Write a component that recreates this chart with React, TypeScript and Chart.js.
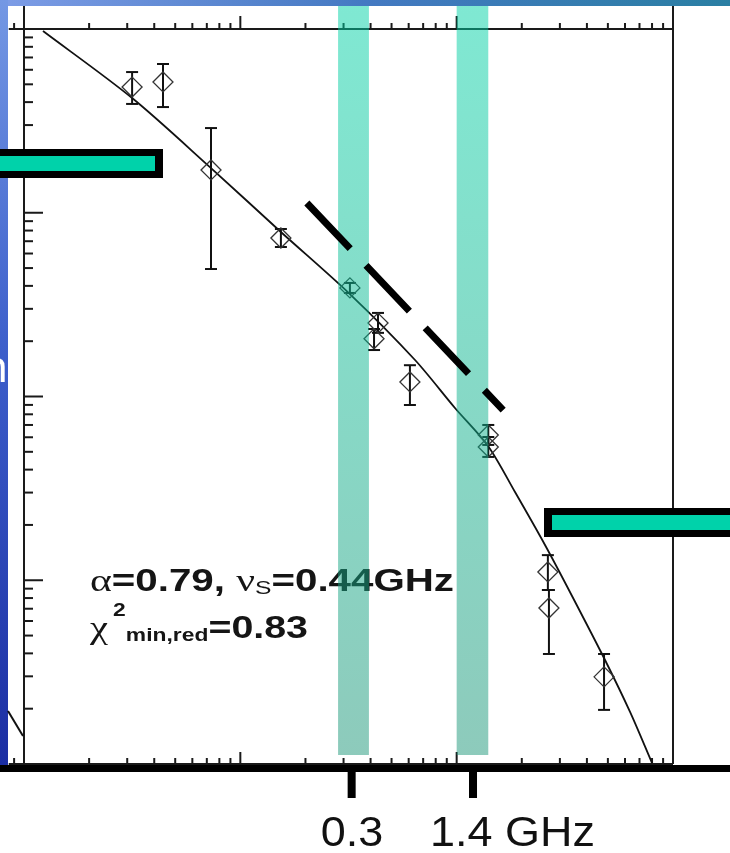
import React, { useEffect, useRef } from "react";
import { Chart, registerables } from "chart.js";

Chart.register(...registerables);

// Axis ranges: frequency in GHz, flux density in Jy (log–log)
const xRange = [0.01, 10];
const yRange = [0.01, 100];

// Observed spectrum (diamonds with error bars)
const obsFreq = [0.0316, 0.0439, 0.0732, 0.154, 0.321, 0.433, 0.415, 0.608, 1.4, 1.4, 2.64, 2.67, 4.8];
const obsFlux = [48.3, 51.5, 17.1, 7.29, 3.9, 2.51, 2.06, 1.2, 0.617, 0.531, 0.111, 0.0706, 0.0298];
const obsErrLow = [39.1, 37.6, 4.94, 6.51, 3.66, 2.22, 1.79, 0.899, 0.545, 0.469, 0.0885, 0.0397, 0.0197];
const obsErrHigh = [58.3, 64.5, 28.9, 8.16, 4.15, 2.85, 2.33, 1.48, 0.7, 0.602, 0.137, 0.0885, 0.0397];

// Fitted model curve
const fitFreq = [0.01224, 0.0316, 0.0732, 0.154, 0.321, 0.642, 0.982, 1.396, 1.861, 2.561, 3.414, 4.85, 6.33, 8.0];
const fitFlux = [97.5, 42.1, 17.5, 7.86, 3.61, 1.58, 0.866, 0.538, 0.302, 0.1555, 0.0821, 0.0368, 0.0192, 0.01012];

// Dashed reference power law
const refFreq = [0.203, 1.64];
const refFlux = [11.3, 0.844];

// Highlighted frequency bands (GHz)
const bandLow = [0.283, 1.0];
const bandHigh = [0.393, 1.4];

// Slide axis markers
const markerFreq = [0.327, 1.19];
const markerLabels = ["0.3", "1.4 GHz"];

// Fit annotation values
const fitAlpha = "0.79";
const fitNuS = "0.44GHz";
const fitChi2 = "0.83";

type Run = { t: string; font: string; dy?: number; dx?: number };

function drawRuns(ctx: CanvasRenderingContext2D, x: number, y: number, runs: Run[], sx: number) {
  ctx.save();
  ctx.translate(x, y);
  ctx.scale(sx, 1);
  let cx = 0;
  for (const r of runs) {
    ctx.font = r.font;
    cx += r.dx || 0;
    ctx.fillText(r.t, cx, r.dy || 0);
    cx += ctx.measureText(r.t).width;
  }
  ctx.restore();
}

function seg(ctx: CanvasRenderingContext2D, x1: number, y1: number, x2: number, y2: number) {
  ctx.beginPath();
  ctx.moveTo(x1, y1);
  ctx.lineTo(x2, y2);
  ctx.stroke();
}

const decorPlugin = {
  id: "decor",
  beforeDatasetsDraw(chart: any) {
    const ctx: CanvasRenderingContext2D = chart.ctx;
    const xs = chart.scales.x;
    const ys = chart.scales.y;
    const L = xs.getPixelForValue(xRange[0]);
    const R = xs.getPixelForValue(xRange[1]);
    const T = ys.getPixelForValue(yRange[1]);
    const B = ys.getPixelForValue(yRange[0]);
    ctx.save();
    ctx.strokeStyle = "#1a1a1a";
    ctx.lineWidth = 2;
    const xStart = xs.getPixelForValue(0.0085);
    seg(ctx, L, 0, L, B);
    seg(ctx, R, 0, R, B);
    seg(ctx, xStart, T, R, T);
    seg(ctx, xStart, B, R, B);
    for (let e = -3; e <= 1; e++) {
      for (let m = 1; m <= 9; m++) {
        const v = m * Math.pow(10, e);
        if (v < 0.0088 || v > 10.001) continue;
        const px = xs.getPixelForValue(v);
        const major = m === 1;
        seg(ctx, px, T, px, T - (major ? 13 : 6));
        seg(ctx, px, B, px, B - (major ? 12 : 6));
      }
    }
    for (let e = -2; e <= 2; e++) {
      for (let m = 1; m <= 9; m++) {
        const v = m * Math.pow(10, e);
        if (v < 0.0099 || v > 100.01) continue;
        const py = ys.getPixelForValue(v);
        seg(ctx, L, py, L + (m === 1 ? 19 : 9), py);
      }
    }
    // error bars
    ctx.lineWidth = 2;
    ctx.strokeStyle = "#111";
    for (let i = 0; i < obsFreq.length; i++) {
      const px = xs.getPixelForValue(obsFreq[i]);
      const y1 = ys.getPixelForValue(obsErrHigh[i]);
      const y2 = ys.getPixelForValue(obsErrLow[i]);
      seg(ctx, px, y1, px, y2);
      seg(ctx, px - 6, y1, px + 6, y1);
      seg(ctx, px - 6, y2, px + 6, y2);
    }
    // annotation
    ctx.fillStyle = "#151515";
    ctx.textBaseline = "alphabetic";
    const bold = 'bold 31px "Liberation Sans"';
    const greek = '32px "Liberation Serif"';
    drawRuns(ctx, L + 66, 591, [
      { t: "\u03b1", font: greek },
      { t: "=" + fitAlpha + ", ", font: bold },
      { t: "\u03bd", font: greek },
      { t: "S", font: '19px "Liberation Sans"', dy: 3 },
      { t: "=" + fitNuS, font: bold },
    ], 1.3);
    drawRuns(ctx, L + 66, 638, [
      { t: "\u03c7", font: greek },
      { t: "2", font: 'bold 18px "Liberation Sans"', dy: -22, dx: 4 },
      { t: "min,red", font: 'bold 18px "Liberation Sans"', dy: 3, dx: 0 },
      { t: "=" + fitChi2, font: bold },
    ], 1.27);
    ctx.restore();
  },
  beforeDatasetDraw(chart: any, args: any) {
    if (args.index !== 2) return;
    const ctx: CanvasRenderingContext2D = chart.ctx;
    const xs = chart.scales.x;
    ctx.save();
    const g = ctx.createLinearGradient(0, 6, 0, 755);
    g.addColorStop(0, "rgba(0,210,166,0.5)");
    g.addColorStop(1, "rgba(28,150,120,0.5)");
    ctx.fillStyle = g;
    for (let i = 0; i < bandLow.length; i++) {
      const a = xs.getPixelForValue(bandLow[i]);
      const b = xs.getPixelForValue(bandHigh[i]);
      ctx.fillRect(a, 6, b - a, 749);
    }
    ctx.restore();
  },
  afterDraw(chart: any) {
    const ctx: CanvasRenderingContext2D = chart.ctx;
    const xs = chart.scales.x;
    const W = chart.width;
    ctx.save();
    // slide background strips
    const gt = ctx.createLinearGradient(0, 0, W, 0);
    gt.addColorStop(0, "#7d9ce6");
    gt.addColorStop(0.5, "#4479c2");
    gt.addColorStop(1, "#2a7fa3");
    ctx.fillStyle = gt;
    ctx.fillRect(0, 0, W, 6);
    const gl = ctx.createLinearGradient(0, 0, 0, 765);
    gl.addColorStop(0, "#7498e4");
    gl.addColorStop(0.45, "#3d5fcb");
    gl.addColorStop(1, "#1b2ea3");
    ctx.fillStyle = gl;
    ctx.fillRect(0, 0, 8, 765);
    // cut-off glyph on the left strip
    ctx.save();
    ctx.beginPath();
    ctx.rect(0, 300, 8, 120);
    ctx.clip();
    ctx.fillStyle = "#fff";
    ctx.font = '44px "Noto Sans"';
    ctx.fillText("n", -19, 382);
    ctx.restore();
    // small diagonal fragment
    ctx.strokeStyle = "#111";
    ctx.lineWidth = 2;
    seg(ctx, 8, 711, 23, 736);
    // teal boxes
    const box = (x: number, y: number, w: number, h: number) => {
      ctx.fillStyle = "#000";
      ctx.fillRect(x, y, w, h);
      ctx.fillStyle = "#00d2aa";
      ctx.fillRect(x + 8, y + 7, w - 16, h - 14);
    };
    box(-8, 149, 171, 29);
    box(544, 508, 200, 29);
    // bottom slide axis
    ctx.fillStyle = "#000";
    ctx.fillRect(0, 765, W, 7);
    for (let i = 0; i < markerFreq.length; i++) {
      const px = xs.getPixelForValue(markerFreq[i]);
      ctx.fillStyle = "#000";
      ctx.fillRect(px - 4, 772, 8, 26);
      ctx.fillStyle = "#111";
      const off = i === 0 ? -31 : -43;
      drawRuns(ctx, px + off, 846, [{ t: markerLabels[i], font: '42px "Liberation Sans"' }], 1.07);
    }
    ctx.restore();
  },
};

export default function App() {
  const ref = useRef<HTMLCanvasElement | null>(null);
  useEffect(() => {
    if (!ref.current) return;
    const chart = new Chart(ref.current, {
      type: "scatter",
      data: {
        datasets: [
          {
            data: fitFreq.map((f, i) => ({ x: f, y: fitFlux[i] })),
            showLine: true,
            borderColor: "#111",
            borderWidth: 1.8,
            pointRadius: 0,
            tension: 0.3,
            order: 2,
          } as any,
          {
            data: obsFreq.map((f, i) => ({ x: f, y: obsFlux[i] })),
            pointStyle: "rectRot",
            pointRadius: 10,
            borderColor: "#333",
            borderWidth: 1.3,
            backgroundColor: "rgba(0,0,0,0)",
            order: 1,
          } as any,
          {
            data: refFreq.map((f, i) => ({ x: f, y: refFlux[i] })),
            showLine: true,
            borderColor: "#000",
            borderWidth: 7,
            borderDash: [63, 23],
            borderCapStyle: "butt",
            pointRadius: 0,
            order: 0,
          } as any,
        ],
      },
      options: {
        animation: false,
        responsive: false,
        devicePixelRatio: 1,
        layout: { padding: { left: 24, top: 29, right: 57, bottom: 89 } },
        scales: {
          x: { type: "logarithmic", min: xRange[0], max: xRange[1], display: false },
          y: { type: "logarithmic", min: yRange[0], max: yRange[1], display: false },
        },
        plugins: { legend: { display: false }, tooltip: { enabled: false } },
      },
      plugins: [decorPlugin],
    });
    return () => chart.destroy();
  }, []);
  return (
    <div style={{ position: "absolute", left: 0, top: 0, width: 730, height: 853, background: "#fff" }}>
      <canvas ref={ref} width={730} height={853} />
    </div>
  );
}
